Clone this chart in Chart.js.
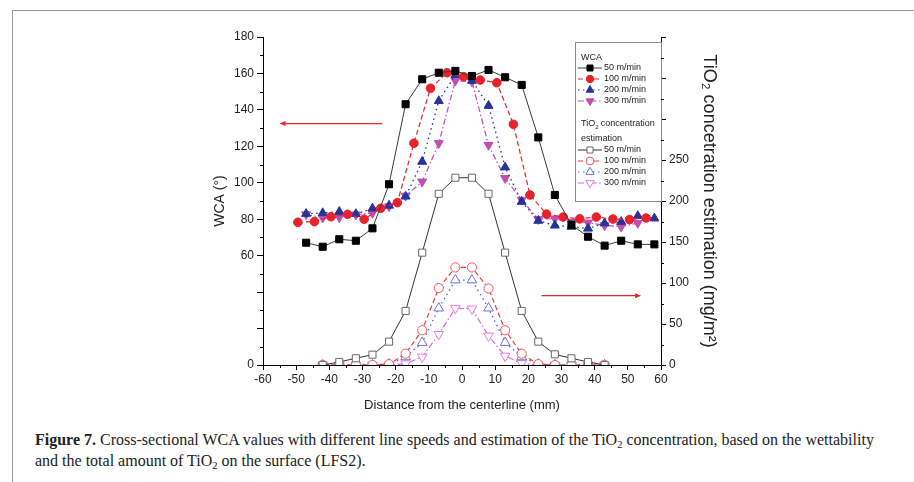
<!DOCTYPE html>
<html>
<head>
<meta charset="utf-8">
<title>Figure 7 - WCA and TiO2 estimation</title>
<script src="https://cdn.jsdelivr.net/npm/chart.js@4/dist/chart.umd.min.js"></script>
<style>
    html, body { margin: 0; padding: 0; background: #fff; }
    body { width: 914px; height: 482px; position: relative; overflow: hidden; font-family: "Liberation Sans", Arial, sans-serif; }
    #frame { position: absolute; left: 12px; top: 10px; right: -2px; bottom: -2px; border-top: 1px solid #9a9a9a; border-left: 1px solid #9a9a9a; }
    #chartBox { position: absolute; left: 0; top: 0; width: 914px; height: 420px; }
    #caption { position: absolute; left: 35px; top: 429px; font-family: "Liberation Serif", "Times New Roman", serif; font-size: 16px; line-height: 21px; color: #222; white-space: nowrap; }
    #caption sub { font-size: 10.5px; vertical-align: -3px; line-height: 0; }
</style>
</head>
<body>
<div id="frame"></div>
<div id="chartBox"><canvas id="wcaChart" width="914" height="420"></canvas></div>
<div id="caption"><b>Figure 7.</b> Cross-sectional WCA values with different line speeds and estimation of the TiO<sub>2</sub> concentration, based on the wettability<br>and the total amount of TiO<sub>2</sub> on the surface (LFS2).</div>

<script>
// Distance from the centerline (mm)
const distanceWca = [-47, -42, -37, -32, -27, -22, -17, -12, -7, -2, 3, 8, 13, 18, 23, 28, 33, 38, 43, 48, 53, 58];
const distanceWca100 = [-49.5, -44.5, -39.5, -34.5, -29.5, -24.5, -19.5, -14.5, -9.5, -4.5, 0.5, 5.5, 10.5, 15.5, 20.5, 25.5, 30.5, 35.5, 40.5, 45.5, 50.5, 55.5];
const distanceTio2 = [-42, -37, -32, -27, -22, -17, -12, -7, -2, 3, 8, 13, 18, 23, 28, 33, 38, 43];

// WCA (deg) per line speed
const wca50 = [67.1, 64.9, 69.0, 68.2, 75.0, 99.2, 143.1, 156.8, 160.4, 161.4, 158.6, 161.9, 157.9, 153.7, 124.9, 93.3, 77.0, 70.4, 65.5, 68.2, 66.2, 66.2];
const wca100 = [78.3, 78.7, 81.4, 82.7, 80.0, 86.0, 89.1, 121.7, 151.9, 160.4, 158.2, 156.4, 154.9, 132.1, 93.3, 82.8, 81.2, 80.2, 81.2, 80.1, 79.8, 80.7];
const wca200 = [83.0, 83.4, 84.1, 82.9, 85.9, 87.5, 92.5, 111.6, 144.9, 159.2, 156.0, 142.3, 108.5, 89.6, 79.2, 76.6, 75.9, 74.9, 77.8, 78.6, 81.8, 80.5];
const wca300 = [82.6, 80.8, 81.0, 82.5, 83.4, 87.0, 92.8, 100.6, 121.7, 156.0, 155.5, 120.7, 102.5, 90.6, 80.0, 80.3, 78.5, 78.1, 76.6, 75.9, 77.9];

// TiO2 concentration estimation (mg/m2) per line speed
const tio50 = [0, 3.7, 8.2, 12.6, 28.5, 66, 137, 208.8, 228.4, 228.4, 208.8, 137, 66, 28.5, 13, 8.2, 3.7, 0];
const tio100 = [0, 0, 0, 0, 1, 13.8, 42.4, 93.8, 119, 119, 93.3, 42.4, 13.8, 1, 0, 0, 0, 0];
const tio200 = [0, 0, 0, 0, 1, 9.8, 27.3, 69.3, 103.6, 103.6, 69.3, 27.3, 9.8, 1, 0, 0, 0, 0];
const tio300 = [0, 0, 0, 0, 0, 1.6, 9.8, 37.5, 69.3, 68.5, 35.5, 11, 2, 0, 0, 0, 0, 0];

const speedLabels = ['50 m/min', '100 m/min', '200 m/min', '300 m/min'];

// Axis ranges and tick steps
const xRange = [-60, 60, 10, 5];
const wcaRange = [0, 180, 20, 10];
const tioRange = [0, 400, 50, 25];
const wcaHiddenTicks = [20, 40];
const tioMaxLabel = 250;

document.addEventListener('DOMContentLoaded', function() {
    initializeWcaChart();
});

// Pair x and y arrays into point objects
function toPoints(xs, ys) {
    return ys.map(function(y, i) {
        return { x: xs[i], y: y };
    });
}

// Build one dataset
function makeSeries(label, xs, ys, axis, style) {
    return {
        label: label,
        data: toPoints(xs, ys),
        yAxisID: axis,
        borderColor: style.line,
        borderWidth: style.width || 1,
        borderDash: style.dash || [],
        pointStyle: style.shape,
        pointRotation: style.rotation || 0,
        pointRadius: style.radius,
        pointBackgroundColor: style.fill,
        pointBorderColor: style.stroke,
        pointBorderWidth: 1,
        tension: 0,
        fill: false
    };
}

// Minor ticks are not supported, draw them from the scales
const minorTicksPlugin = {
    id: 'minorTicks',
    afterDraw: function(chart) {
        const ctx = chart.ctx;
        const sx = chart.scales.x;
        const sy = chart.scales.y;
        const sy2 = chart.scales.y2;
        ctx.save();
        ctx.strokeStyle = '#000';
        ctx.lineWidth = 1;
        ctx.beginPath();
        for (let v = xRange[0]; v <= xRange[1]; v += xRange[3]) {
            if (v % xRange[2] === 0) continue;
            const px = Math.round(sx.getPixelForValue(v)) + 0.5;
            ctx.moveTo(px, sx.top);
            ctx.lineTo(px, sx.top + 3);
        }
        for (let v = wcaRange[0]; v <= wcaRange[1]; v += wcaRange[3]) {
            if (v % wcaRange[2] === 0) continue;
            const py = Math.round(sy.getPixelForValue(v)) + 0.5;
            ctx.moveTo(sy.right, py);
            ctx.lineTo(sy.right - 3, py);
        }
        for (let v = tioRange[0]; v <= tioRange[1]; v += tioRange[3]) {
            if (v % tioRange[2] === 0) continue;
            const py = Math.round(sy2.getPixelForValue(v)) + 0.5;
            ctx.moveTo(sy2.left, py);
            ctx.lineTo(sy2.left + 3, py);
        }
        ctx.stroke();
        ctx.restore();
    }
};

// Red arrows pointing to the matching axis
const arrowPlugin = {
    id: 'axisArrows',
    afterDatasetsDraw: function(chart) {
        const ctx = chart.ctx;
        const sx = chart.scales.x;
        drawArrow(ctx, sx.getPixelForValue(-24), sx.getPixelForValue(-55), chart.scales.y.getPixelForValue(132.5));
        drawArrow(ctx, sx.getPixelForValue(24), sx.getPixelForValue(54), chart.scales.y2.getPixelForValue(84.5));
    }
};

function drawArrow(ctx, x1, x2, y) {
    const dir = x2 > x1 ? 1 : -1;
    ctx.save();
    ctx.strokeStyle = '#e3262a';
    ctx.fillStyle = '#e3262a';
    ctx.lineWidth = 1.3;
    ctx.beginPath();
    ctx.moveTo(x1, y);
    ctx.lineTo(x2 - dir * 4, y);
    ctx.stroke();
    ctx.beginPath();
    ctx.moveTo(x2, y);
    ctx.lineTo(x2 - dir * 6, y - 2.5);
    ctx.lineTo(x2 - dir * 6, y + 2.5);
    ctx.closePath();
    ctx.fill();
    ctx.restore();
}

// Two-group legend box in the top right corner
const groupLegendPlugin = {
    id: 'groupLegend',
    afterDatasetsDraw: function(chart) {
        const ctx = chart.ctx;
        const area = chart.chartArea;
        const left = area.right - 86;
        const top = area.top + 5;
        const font = '9px "Liberation Sans", Arial, sans-serif';
        ctx.save();
        ctx.fillStyle = '#fff';
        ctx.fillRect(left, top, 86, 159);
        ctx.strokeStyle = '#8a8a8a';
        ctx.lineWidth = 1;
        ctx.strokeRect(Math.round(left) + 0.5, Math.round(top) + 0.5, 86, 159);

        ctx.font = font;
        ctx.textBaseline = 'middle';
        ctx.fillStyle = '#222';
        ctx.fillText('WCA', left + 6, top + 16);
        ctx.fillText('TiO', left + 6, top + 82);
        const w = ctx.measureText('TiO').width;
        ctx.font = '6px "Liberation Sans", Arial, sans-serif';
        ctx.fillText('2', left + 6 + w, top + 85);
        ctx.font = font;
        ctx.fillText(' concentration', left + 6 + w + 3, top + 82);
        ctx.fillText('estimation', left + 6, top + 97);

        const rows = [26, 37, 48, 59, 108, 119, 130, 141];
        chart.data.datasets.forEach(function(ds, i) {
            const y = top + rows[i];
            ctx.strokeStyle = ds.borderColor;
            ctx.lineWidth = 1;
            ctx.setLineDash(ds.borderDash);
            ctx.beginPath();
            ctx.moveTo(left + 3, y);
            ctx.lineTo(left + 27, y);
            ctx.stroke();
            ctx.setLineDash([]);
            ctx.fillStyle = ds.pointBackgroundColor;
            ctx.strokeStyle = ds.pointBorderColor;
            Chart.helpers.drawPoint(ctx, {
                pointStyle: ds.pointStyle,
                rotation: ds.pointRotation,
                radius: ds.pointRadius * 0.85,
                borderWidth: 1
            }, left + 15, y);
            ctx.fillStyle = '#222';
            ctx.fillText(speedLabels[i % 4], left + 29, y);
        });
        ctx.restore();
    }
};

function initializeWcaChart() {
    const ctx = document.getElementById('wcaChart');
    const tickFont = { family: '"Liberation Sans", Arial, sans-serif', size: 12 };

    const datasets = [
        makeSeries('WCA 50 m/min', distanceWca, wca50, 'y',
            { line: '#3a3a3a', shape: 'rect', radius: 5, fill: '#000', stroke: '#000' }),
        makeSeries('WCA 100 m/min', distanceWca100, wca100, 'y',
            { line: '#e8222a', dash: [5, 3], width: 1.2, shape: 'circle', radius: 4.3, fill: '#e8222a', stroke: '#e8222a' }),
        makeSeries('WCA 200 m/min', distanceWca, wca200, 'y',
            { line: '#26339a', dash: [1.5, 3.5], width: 1.3, shape: 'triangle', radius: 5.2, fill: '#26339a', stroke: '#26339a' }),
        makeSeries('WCA 300 m/min', distanceWca, wca300, 'y',
            { line: '#c24db5', dash: [6, 2.5, 1.5, 2.5], width: 1.2, shape: 'triangle', rotation: 180, radius: 5.2, fill: '#c24db5', stroke: '#c24db5' }),
        makeSeries('TiO2 50 m/min', distanceTio2, tio50, 'y2',
            { line: '#333', shape: 'rect', radius: 5, fill: '#fff', stroke: '#6a6a6a' }),
        makeSeries('TiO2 100 m/min', distanceTio2, tio100, 'y2',
            { line: '#ee3a3a', dash: [5, 3], width: 1.2, shape: 'circle', radius: 4.6, fill: '#fff', stroke: '#f0575a' }),
        makeSeries('TiO2 200 m/min', distanceTio2, tio200, 'y2',
            { line: '#5560cc', dash: [1.5, 3.5], width: 1.3, shape: 'triangle', radius: 5.6, fill: '#fff', stroke: '#6b73d6' }),
        makeSeries('TiO2 300 m/min', distanceTio2, tio300, 'y2',
            { line: '#dd66d4', dash: [6, 2.5, 1.5, 2.5], width: 1.2, shape: 'triangle', rotation: 180, radius: 5.6, fill: '#fff', stroke: '#e57ae0' })
    ];

    const wcaChart = new Chart(ctx, {
        type: 'line',
        data: { datasets: datasets },
        options: {
            responsive: false,
            animation: false,
            devicePixelRatio: 1,
            layout: {
                padding: { left: 212, right: 194, top: 37, bottom: 7 }
            },
            plugins: {
                legend: { display: false },
                tooltip: { enabled: false }
            },
            scales: {
                x: {
                    type: 'linear',
                    min: xRange[0],
                    max: xRange[1],
                    ticks: { stepSize: xRange[2], color: '#222', font: tickFont, padding: 2 },
                    grid: { drawOnChartArea: false, tickLength: 5, color: '#000' },
                    border: { color: '#000', width: 1 },
                    title: {
                        display: true,
                        text: 'Distance from the centerline (mm)',
                        color: '#222',
                        font: { family: '"Liberation Sans", Arial, sans-serif', size: 13 },
                        padding: 0
                    },
                    afterFit: function(scale) { scale.height = 48; }
                },
                y: {
                    position: 'left',
                    min: wcaRange[0],
                    max: wcaRange[1],
                    ticks: {
                        stepSize: wcaRange[2],
                        color: '#222',
                        font: tickFont,
                        padding: 3,
                        callback: function(value) {
                            return wcaHiddenTicks.includes(value) ? '' : value;
                        }
                    },
                    grid: { drawOnChartArea: false, tickLength: 6, color: '#000' },
                    border: { color: '#000', width: 1 },
                    title: {
                        display: true,
                        text: 'WCA (°)',
                        color: '#222',
                        font: { family: '"Liberation Sans", Arial, sans-serif', size: 14 },
                        padding: 0
                    },
                    afterFit: function(scale) { scale.width = 51; }
                },
                y2: {
                    position: 'right',
                    min: tioRange[0],
                    max: tioRange[1],
                    ticks: {
                        stepSize: tioRange[2],
                        color: '#222',
                        font: tickFont,
                        padding: 3,
                        callback: function(value) {
                            return value <= tioMaxLabel ? value : '';
                        }
                    },
                    grid: { drawOnChartArea: false, tickLength: 5, color: '#000' },
                    border: { color: '#000', width: 1 },
                    title: {
                        display: true,
                        text: 'TiO₂ concetration estimation (mg/m²)',
                        color: '#222',
                        font: { family: '"Liberation Sans", Arial, sans-serif', size: 18 },
                        padding: 0
                    },
                    afterFit: function(scale) { scale.width = 59; }
                }
            }
        },
        plugins: [minorTicksPlugin, arrowPlugin, groupLegendPlugin]
    });

    // Store chart instance for later checks
    window.wcaChart = wcaChart;
}
</script>
</body>
</html>
